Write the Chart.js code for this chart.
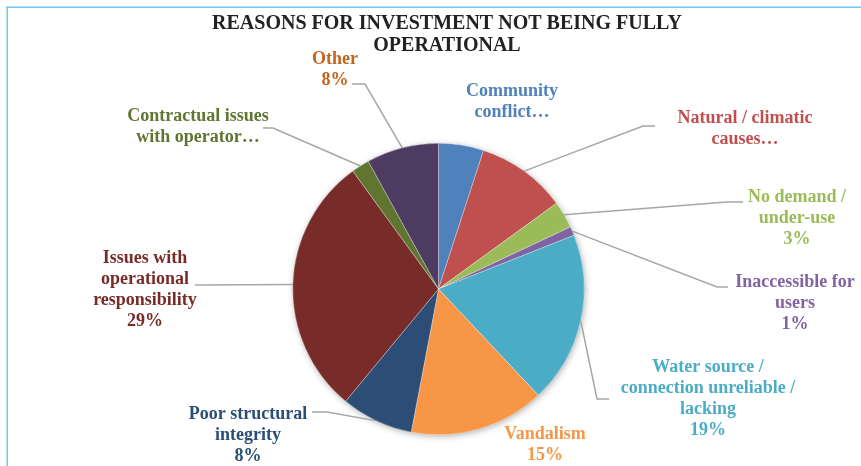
<!DOCTYPE html>
<html>
<head>
<meta charset="utf-8">
<script src="https://cdn.jsdelivr.net/npm/chart.js@4/dist/chart.umd.min.js"></script>
<style>
  html, body { margin: 0; padding: 0; background: #ffffff; }
  #wrap { position: relative; width: 861px; height: 466px; }
</style>
</head>
<body>
<div id="wrap"><canvas id="chart" width="861" height="466"></canvas></div>
<script>
// Reasons for investment not being fully operational (share of cases, %)
const categories = [
  'Community conflict…',
  'Natural / climatic causes…',
  'No demand / under-use',
  'Inaccessible for users',
  'Water source / connection unreliable / lacking',
  'Vandalism',
  'Poor structural integrity',
  'Issues with operational responsibility',
  'Contractual issues with operator…',
  'Other'
];
const shares = [5, 10, 3, 1, 19, 15, 8, 29, 2, 8];

// How each category name is broken over lines, and whether its percentage is printed
const labelLines = [
  ['Community', 'conflict…'],
  ['Natural / climatic', 'causes…'],
  ['No demand /', 'under-use'],
  ['Inaccessible for', 'users'],
  ['Water source /', 'connection unreliable /', 'lacking'],
  ['Vandalism'],
  ['Poor structural', 'integrity'],
  ['Issues with', 'operational', 'responsibility'],
  ['Contractual issues', 'with operator…'],
  ['Other']
];
const showPercent = [false, false, true, true, true, true, true, true, false, true];

const sliceColors = ['#4F81BD', '#C0504D', '#9BBB59', '#8064A2', '#4BACC6',
                     '#F79646', '#2C4D75', '#772C2A', '#5F7530', '#4D3B62'];
const textColors  = ['#4F81BD', '#C0504D', '#9BBB59', '#8064A2', '#4BACC6',
                     '#F79646', '#2C4D75', '#772C2A', '#5F7530', '#C0641E'];

// Label placement: centre x and first-line y of each text block,
// plus the label-side end of its leader line and the elbow point.
const labelPlacement = [
  { x: 512, y: 91 },
  { x: 745, y: 118, lineFrom: [655, 126], elbow: [643, 126] },
  { x: 797, y: 197, lineFrom: [743, 202], elbow: [727, 202] },
  { x: 795, y: 282, lineFrom: [728, 287], elbow: [717, 287] },
  { x: 708, y: 367, lineFrom: [609, 399], elbow: [597, 399] },
  { x: 545, y: 434 },
  { x: 248, y: 414, lineFrom: [312, 412], elbow: [327, 412] },
  { x: 145, y: 258, lineFrom: [195, 285], elbow: [200, 285] },
  { x: 198, y: 116, lineFrom: [263, 128], elbow: [273, 128] },
  { x: 335, y: 59,  lineFrom: [352, 84],  elbow: [365, 84] }
];

const titleLines = ['REASONS FOR INVESTMENT NOT BEING FULLY', 'OPERATIONAL'];
const SERIF = '"Liberation Serif", "DejaVu Serif", serif';

// Frame lines, soft pie shadow and the title
const decorPlugin = {
  id: 'decor',
  beforeDraw(chart) {
    const ctx = chart.ctx;
    ctx.save();
    ctx.fillStyle = '#FFFFFF';
    ctx.fillRect(0, 0, chart.width, chart.height);
    ctx.fillStyle = '#66C6EC';
    ctx.fillRect(6.5, 6.5, chart.width - 6.5, 1.4);
    ctx.fillRect(6.5, 6.5, 1.4, chart.height - 6.5);
    ctx.fillStyle = '#222222';
    ctx.font = 'bold 20px ' + SERIF;
    ctx.textAlign = 'center';
    ctx.textBaseline = 'middle';
    ctx.fillText(titleLines[0], 447, 24);
    ctx.fillText(titleLines[1], 447, 46);
    ctx.restore();
  },
  beforeDatasetsDraw(chart) {
    const arc = chart.getDatasetMeta(0).data[0];
    if (!arc) return;
    const { x, y, outerRadius } = arc.getProps(['x', 'y', 'outerRadius'], true);
    const ctx = chart.ctx;
    ctx.save();
    ctx.shadowColor = 'rgba(0,0,0,0.35)';
    ctx.shadowBlur = 7;
    ctx.shadowOffsetX = 1;
    ctx.shadowOffsetY = 1.5;
    ctx.fillStyle = '#FFFFFF';
    ctx.beginPath();
    ctx.arc(x, y, outerRadius - 0.5, 0, Math.PI * 2);
    ctx.fill();
    ctx.restore();
  }
};

// Category labels with leader lines to the middle of each slice's rim
const labelPlugin = {
  id: 'sliceLabels',
  afterDatasetsDraw(chart) {
    const ctx = chart.ctx;
    const meta = chart.getDatasetMeta(0);
    const data = chart.data.datasets[0].data;
    const total = data.reduce((a, b) => a + b, 0);
    ctx.save();
    meta.data.forEach((arc, i) => {
      const p = arc.getProps(['x', 'y', 'startAngle', 'endAngle', 'outerRadius'], true);
      const place = labelPlacement[i];
      if (place.lineFrom) {
        const mid = (p.startAngle + p.endAngle) / 2;
        const ex = p.x + Math.cos(mid) * p.outerRadius;
        const ey = p.y + Math.sin(mid) * p.outerRadius;
        ctx.strokeStyle = '#A6A6A6';
        ctx.lineWidth = 1.5;
        ctx.beginPath();
        ctx.moveTo(place.lineFrom[0], place.lineFrom[1]);
        ctx.lineTo(place.elbow[0], place.elbow[1]);
        ctx.lineTo(ex, ey);
        ctx.stroke();
      }
      const lines = labelLines[i].slice();
      if (showPercent[i]) lines.push(Math.round(data[i] / total * 100) + '%');
      ctx.fillStyle = textColors[i];
      ctx.font = 'bold 18px ' + SERIF;
      ctx.textAlign = 'center';
      ctx.textBaseline = 'middle';
      lines.forEach((t, k) => ctx.fillText(t, place.x, place.y + k * 21));
    });
    ctx.restore();
  }
};

new Chart(document.getElementById('chart'), {
  type: 'pie',
  data: {
    labels: categories,
    datasets: [{
      data: shares,
      backgroundColor: sliceColors,
      borderColor: 'rgba(255,255,255,0.6)',
      borderWidth: 0.5
    }]
  },
  options: {
    responsive: false,
    animation: false,
    devicePixelRatio: 1,
    layout: { padding: { top: 143, bottom: 31, left: 150, right: 134 } },
    plugins: {
      legend: { display: false },
      title: { display: false },
      tooltip: { enabled: false }
    }
  },
  plugins: [decorPlugin, labelPlugin]
});
</script>
</body>
</html>
